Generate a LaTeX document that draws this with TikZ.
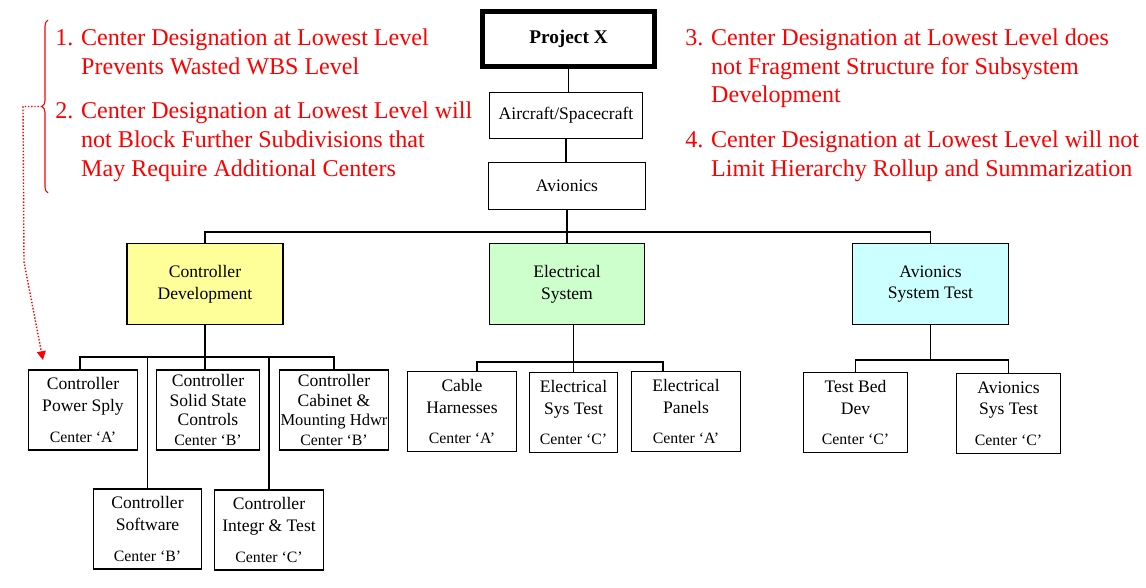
\documentclass[tikz,border=0pt]{standalone}
\usepackage{fontspec}
\setmainfont{Liberation Serif}
\usepackage{tikz}
\usetikzlibrary{arrows.meta}
\usetikzlibrary{decorations.pathreplacing}

\definecolor{devyellow}{HTML}{FFFF99}
\definecolor{elecgreen}{HTML}{CCFFCC}
\definecolor{testcyan}{HTML}{CCFFFF}
\definecolor{notered}{HTML}{FF0000}

\newcommand{\boxfont}{\fontsize{10}{12.4}\selectfont}
\newcommand{\tightfont}{\fontsize{10}{11.3}\selectfont}
\newcommand{\notefont}{\fontsize{13.7}{16.4}\selectfont}
\newcommand{\ctrtag}[1]{{\fontsize{9}{11}\selectfont Center `#1'}}

\tikzset{
  wbs/.style={draw, line width=1.1pt, align=center, inner sep=0pt, font=\boxfont},
  leaf/.style={wbs, minimum height=1.6cm},
  note/.style={text=notered, font=\notefont, inner sep=0pt, anchor=north west},
  link/.style={line width=1.1pt},
}

\begin{document}
\begin{tikzpicture}[x=0.02cm, y=-0.02cm]
        \useasboundingbox (0,0) rectangle (1146,588);

        \node[wbs, line width=2.6pt, minimum width=3.45cm, minimum height=1.11cm,
              font=\bfseries\fontsize{11}{13}\selectfont] (px) at (568.5, 39) {Project X};
        \node[wbs, minimum width=3.06cm, minimum height=0.92cm] (air) at (566, 115.5) {Aircraft/Spacecraft};
        \node[wbs, minimum width=3.14cm, minimum height=0.94cm] (av) at (567, 186) {Avionics};

        \node[wbs, fill=devyellow, minimum width=3.12cm, minimum height=1.62cm] (cd) at (205, 284) {Controller\\Development};
        \node[wbs, fill=elecgreen, minimum width=3.10cm, minimum height=1.62cm] (es) at (567, 284) {Electrical\\System};
        \node[wbs, fill=testcyan, minimum width=3.12cm, minimum height=1.62cm] (ast) at (930.5, 284) {Avionics\\System Test};

        % controller development
        \node[leaf, minimum width=2.18cm] (ps) at (83, 410) {Controller\\Power Sply\\[5pt]\ctrtag{A}};
        \node[leaf, minimum width=2.06cm, font=\tightfont] (ss) at (208, 410) {Controller\\Solid State\\Controls\\\ctrtag{B}};
        \node[leaf, minimum width=2.18cm, font=\tightfont] (cab) at (334, 410) {Controller\\Cabinet \&\\{\fontsize{9.4}{11}\selectfont Mounting Hdwr}\\\ctrtag{B}};
        \node[leaf, minimum width=2.16cm] (sw) at (147.5, 529) {Controller\\Software\\[5pt]\ctrtag{B}};
        \node[leaf, minimum width=2.18cm] (it) at (269, 530) {Controller\\Integr \& Test\\[5pt]\ctrtag{C}};

        % electrical system
        \node[leaf, minimum width=2.18cm] (cable) at (462, 411.5) {Cable\\Harnesses\\[5pt]\ctrtag{A}};
        \node[leaf, minimum width=1.76cm] (est) at (573.5, 412.5) {Electrical\\Sys Test\\[5pt]\ctrtag{C}};
        \node[leaf, minimum width=2.18cm] (pan) at (686, 411.5) {Electrical\\Panels\\[5pt]\ctrtag{A}};

        % avionics system test
        \node[leaf, minimum width=2.08cm] (tb) at (855.5, 412.5) {Test Bed\\Dev\\[5pt]\ctrtag{C}};
        \node[leaf, minimum width=2.08cm] (avt) at (1008.5, 413.5) {Avionics\\Sys Test\\[5pt]\ctrtag{C}};

        \coordinate (topbus) at (0, 232);
        \coordinate (cdbus) at (0, 357);
        \coordinate (esbus) at (0, 362);
        \coordinate (astbus) at (0, 360);

        \draw[link] (px.south) -- (px.south |- air.north);
        \draw[link] (air.south) -- (air.south |- av.north);
        \draw[link] (av.south) -- (av.south |- topbus);
        \draw[link] (cd.north) -- (cd.north |- topbus) -- (ast.north |- topbus) -- (ast.north);
        \draw[link] (es.north) -- (es.north |- topbus);

        \draw[link] (cd.south) -- (cd.south |- ss.north);
        \draw[link] ([xshift=-0.06cm]ps.north) -- ([xshift=-0.06cm]ps.north |- cdbus) -- (cab.north |- cdbus) -- (cab.north);
        \draw[link] (sw.north |- cdbus) -- (sw.north);
        \draw[link] (it.north |- cdbus) -- (it.north);

        \draw[link] (est.north) -- (est.north |- es.south);
        \draw[link] ([xshift=0.3cm]cable.north) -- ([xshift=0.3cm]cable.north |- esbus) -- ([xshift=-0.46cm]pan.north |- esbus) -- ([xshift=-0.46cm]pan.north);

        \draw[link] (ast.south) -- (ast.south |- astbus);
        \draw[link] (tb.north) -- (tb.north |- astbus) -- (avt.north |- astbus) -- (avt.north);

        % notes
        \node[note] (leftnote) at (55, 24.8) {\begin{tabular}{@{}p{14.7pt}@{}l@{}}
            1. & Center Designation at Lowest Level\\
               & Prevents Wasted WBS Level\\[9pt]
            2. & Center Designation at Lowest Level will\\
               & not Block Further Subdivisions that\\
               & May Require Additional Centers
          \end{tabular}};
        \node[note] (rightnote) at (685, 24.8) {\begin{tabular}{@{}p{14.7pt}@{}l@{}}
            3. & Center Designation at Lowest Level does\\
               & not Fragment Structure for Subsystem\\
               & Development\\[9pt]
            4. & Center Designation at Lowest Level will not\\
               & Limit Hierarchy Rollup and Summarization
          \end{tabular}};

        \coordinate (bracetop) at (48, 20);
        \coordinate (bracebot) at (48, 193);
        \coordinate (bracetip) at (42, 106.5);
        \coordinate (arrowend) at (43, 360);
        \draw[notered, line width=0.6pt, decorate, decoration={brace, amplitude=0.12cm}] (bracebot) -- (bracetop);
        \draw[notered, densely dotted, line width=0.8pt, -{Triangle[width=5pt, length=5pt]}]
            (bracetip) -- (23, 106.5) -- (24, 262) -- (arrowend);
      \end{tikzpicture}
\end{document}
